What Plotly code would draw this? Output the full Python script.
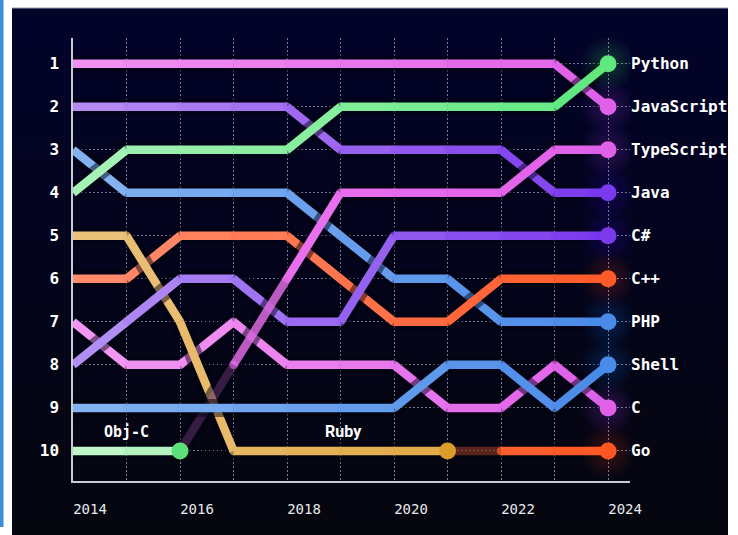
import plotly.graph_objects as go

YEARS = list(range(2014, 2025))
N = None

python_rank = [4, 3, 3, 3, 3, 2, 2, 2, 2, 2, 1]
javascript_rank = [1, 1, 1, 1, 1, 1, 1, 1, 1, 1, 2]
typescript_rank = [N, N, 10, 8, 6, 4, 4, 4, 4, 3, 3]
java_rank = [2, 2, 2, 2, 2, 3, 3, 3, 3, 4, 4]
csharp_rank = [8, 7, 6, 6, 7, 7, 5, 5, 5, 5, 5]
cpp_rank = [6, 6, 5, 5, 5, 6, 7, 7, 6, 6, 6]
php_rank = [3, 4, 4, 4, 4, 5, 6, 6, 7, 7, 7]
shell_rank = [9, 9, 9, 9, 9, 9, 9, 8, 8, 9, 8]
c_rank = [7, 8, 8, 7, 8, 8, 8, 9, 9, 8, 9]
go_rank = [N, N, N, N, N, N, N, 10, 10, 10, 10]
ruby_rank = [5, 5, 7, 10, 10, 10, 10, 10, N, N, N]
objc_rank = [10, 10, 10, N, N, N, N, N, N, N, N]

RANK_TICKS = list(range(1, 11))
YEAR_TICKS = YEARS
YEAR_LABELS = [str(y) if y % 2 == 0 else "" for y in YEARS]

# (name, ranks, start colour, end colour, faded segment alphas, show right label)
SERIES = [
    ("JavaScript", javascript_rank, "#f292f2", "#e060e8", {}, True),
    ("Java", java_rank, "#b98ef2", "#7c3aed", {}, True),
    ("PHP", php_rank, "#86b4f0", "#4a8ae8", {}, True),
    ("C++", cpp_rank, "#ff8e70", "#ff5a28", {}, True),
    ("C", c_rank, "#f29af2", "#e060e8", {}, True),
    ("Ruby", ruby_rank, "#ecc47e", "#dc9c2c", {}, False),
    ("C#", csharp_rank, "#b492f4", "#7c3aed", {}, True),
    ("TypeScript", typescript_rank, "#f07cf2", "#e060e8", {0: 0.22, 1: 0.8}, True),
    ("Shell", shell_rank, "#84b4f2", "#4a8ae8", {}, True),
    ("Python", python_rank, "#a8f2b8", "#5ee87e", {}, True),
    ("Go", go_rank, "#ff8c6e", "#ff5722", {0: 0.35}, True),
    ("Obj-C", objc_rank, "#c4f6cc", "#5ce07a", {}, False),
]

W, H = 738, 535
ML, MR, MT, MB = 73, 108, 38, 54
PW, PH = W - ML - MR, H - MT - MB


def px_x(p):
    return (p - ML) / PW


def px_y(p):
    return (H - MB - p) / PH


def hex_rgb(h):
    h = h.lstrip("#")
    return tuple(int(h[i:i + 2], 16) for i in (0, 2, 4))


def lerp(c0, c1, t):
    a, b = hex_rgb(c0), hex_rgb(c1)
    return tuple(round(a[i] + (b[i] - a[i]) * t) for i in range(3))


def rgba(c, a=1.0):
    return f"rgba({c[0]},{c[1]},{c[2]},{a})"


fig = go.Figure()

for name, ranks, c0, c1, fades, _ in SERIES:
    pts = [(y, r) for y, r in zip(YEARS, ranks) if r is not None]
    # dark halo under the line (gives the "crossing shadow" look)
    fig.add_trace(go.Scatter(
        x=[p[0] for p in pts], y=[p[1] for p in pts], mode="lines",
        line=dict(color="rgba(2,2,16,0.5)", width=18),
        hoverinfo="skip", showlegend=False))
    for i in range(len(pts) - 1):
        (x0, y0), (x1, y1) = pts[i], pts[i + 1]
        t = ((x0 + x1) / 2 - 2014) / 10
        col = rgba(lerp(c0, c1, t), fades.get(i, 1.0))
        fig.add_trace(go.Scatter(
            x=[x0, x1], y=[y0, y1], mode="lines+markers",
            line=dict(color=col, width=8.5),
            marker=dict(size=[0 if i == 0 else 8.5, 0], color=col, line=dict(width=0)),
            hoverinfo="skip", showlegend=False))

# end-point glows and dots
for name, ranks, c0, c1, fades, show in SERIES:
    idx = max(i for i, r in enumerate(ranks) if r is not None)
    x, y = YEARS[idx], ranks[idx]
    cc = hex_rgb(c1)
    if show:
        for size in range(54, 18, -4):
            fig.add_trace(go.Scatter(
                x=[x], y=[y], mode="markers",
                marker=dict(size=size, color=rgba(cc, 0.02), line=dict(width=0)),
                hoverinfo="skip", showlegend=False))
    fig.add_trace(go.Scatter(
        x=[x], y=[y], mode="markers",
        marker=dict(size=17, color=c1, line=dict(width=0)),
        hoverinfo="skip", showlegend=False))

shapes = []
# left blue stripe
shapes.append(dict(type="rect", xref="paper", yref="paper", layer="below",
                   x0=px_x(0), x1=px_x(3.5), y0=px_y(527), y1=px_y(0),
                   fillcolor="#3a8fd8", line=dict(width=0)))
# dark panel with vertical gradient (each band runs to the bottom, later ones on top)
top, bot = (3, 3, 42), (5, 6, 14)
y_top, y_bot = 8, 535
nb = 40
for k in range(nb):
    a = y_top + (y_bot - y_top) * k / nb
    t = k / (nb - 1)
    col = tuple(round(top[i] + (bot[i] - top[i]) * t) for i in range(3))
    shapes.append(dict(type="rect", xref="paper", yref="paper", layer="below",
                       x0=px_x(12), x1=px_x(728), y0=px_y(y_bot), y1=px_y(a),
                       fillcolor=rgba(col), line=dict(width=0)))
shapes.append(dict(type="line", xref="paper", yref="paper", layer="below",
                   x0=px_x(12), x1=px_x(728), y0=px_y(8), y1=px_y(8),
                   line=dict(color="#9aa0aa", width=1)))

annotations = []
for name, ranks, c0, c1, fades, show in SERIES:
    if show and ranks[-1] is not None:
        annotations.append(dict(
            x=1, xref="paper", y=ranks[-1], yref="y", text=name,
            showarrow=False, xanchor="left", yanchor="middle", xshift=-1,
            font=dict(family="DejaVu Sans Mono", size=16, color="white", weight="bold")))

annotations.append(dict(x=2015, y=10, text="Obj-C", showarrow=False, yshift=19,
                        font=dict(family="DejaVu Sans Mono", size=15, color="white", weight="bold")))
annotations.append(dict(x=2019.05, y=10, text="Ruby", showarrow=False, yshift=19,
                        font=dict(family="Roboto", size=16, color="white", weight="bold")))

grid_col = "rgba(200,205,220,0.6)"
fig.update_layout(
    width=W, height=H,
    margin=dict(l=ML, r=MR, t=MT, b=MB),
    paper_bgcolor="white",
    plot_bgcolor="rgba(0,0,0,0)",
    showlegend=False,
    shapes=shapes,
    annotations=annotations,
    xaxis=dict(
        range=[2014, 2024.41], tickvals=YEAR_TICKS, ticktext=YEAR_LABELS,
        showgrid=True, gridcolor=grid_col, griddash="1.5px,2.5px", gridwidth=1,
        showline=True, linecolor="#c8ccd4", linewidth=1.5, zeroline=False,
        ticks="", ticklabelshift=17, ticklabelstandoff=14,
        tickfont=dict(family="DejaVu Sans Mono", size=14, color="#e8e8ee"),
    ),
    yaxis=dict(
        range=[10.7, 0.4], tickvals=RANK_TICKS,
        showgrid=True, gridcolor=grid_col, griddash="1.5px,2.5px", gridwidth=1,
        showline=True, linecolor="#c8ccd4", linewidth=1.5, zeroline=False,
        ticks="", ticklabelstandoff=9,
        tickfont=dict(family="DejaVu Sans Mono", size=16, color="white", weight="bold"),
    ),
)

fig.write_html("out.html", config={"displayModeBar": False},
               post_script="document.body.style.margin='0';document.body.style.padding='0';")
